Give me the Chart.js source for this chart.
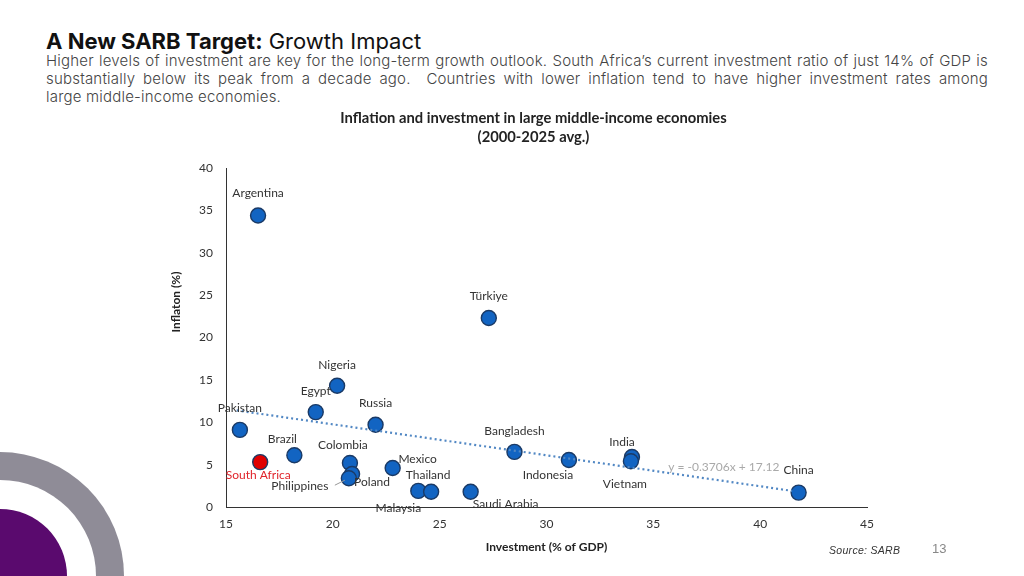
<!DOCTYPE html>
<html>
<head>
<meta charset="utf-8">
<script src="https://cdn.jsdelivr.net/npm/chart.js@4.4.1/dist/chart.umd.min.js"></script>
<style>
  body { margin: 0; width: 1024px; height: 576px; background: #fff; overflow: hidden; position: relative; font-family: Inter, "Noto Sans", sans-serif; }
  h1 { position: absolute; left: 46px; top: 28px; margin: 0; font-size: 22px; line-height: 26px; font-weight: 400; color: #111; white-space: nowrap; }
  h1 b { font-weight: 700; }
  .intro { position: absolute; left: 46px; top: 52px; width: 942px; font-size: 15px; line-height: 18px; font-weight: 300; color: #444; letter-spacing: 0.2px; }
  .intro span { display: block; white-space: nowrap; }
  .intro .j { text-align: justify; text-align-last: justify; white-space: normal; }
  #wrap { position: absolute; left: 150px; top: 100px; width: 740px; height: 460px; }
  .source { position: absolute; left: 829px; top: 544px; font: italic 10.5px "Liberation Sans", sans-serif; color: #333; letter-spacing: 0.3px; }
  .page { position: absolute; left: 932px; top: 541px; font: 13px "Liberation Sans", sans-serif; color: #888; }
  .ring { position: absolute; border-radius: 50%; }
</style>
</head>
<body>
<div class="ring" style="left:-124px; top:452px; width:248px; height:248px; background:#8f8c97;"></div>
<div class="ring" style="left:-96px; top:480px; width:192px; height:192px; background:#fff;"></div>
<div class="ring" style="left:-67px; top:509px; width:134px; height:134px; background:#5a0a6e;"></div>

<h1><b>A New SARB Target:</b> Growth Impact</h1>
<div class="intro">
  <span class="j">Higher levels of investment are key for the long-term growth outlook. South Africa’s current investment ratio of just 14% of GDP is</span>
  <span class="j">substantially below its peak from a decade ago.&nbsp; Countries with lower inflation tend to have higher investment rates among</span>
  <span>large middle-income economies.</span>
</div>

<div id="wrap"><canvas id="chart" width="740" height="460"></canvas></div>
<div class="source">Source: SARB</div>
<div class="page">13</div>

<script>
// countries and their 2000-2025 averages
const countries = ["Argentina", "Türkiye", "Nigeria", "Egypt", "Russia", "Pakistan", "Brazil",
  "South Africa", "Colombia", "Poland", "Philippines", "Mexico", "Malaysia", "Thailand",
  "Saudi Arabia", "Bangladesh", "Indonesia", "India", "Vietnam", "China"];
const investment = [16.5, 27.3, 20.2, 19.2, 22.0, 15.65, 18.2, 16.6, 20.8, 20.9, 20.75, 22.8,
  24.0, 24.6, 26.45, 28.5, 31.05, 34.0, 33.95, 41.8];
const inflation = [34.4, 22.3, 14.3, 11.2, 9.7, 9.1, 6.1, 5.3, 5.2, 3.9, 3.4, 4.6,
  1.9, 1.8, 1.8, 6.5, 5.55, 5.9, 5.4, 1.7];

// linear trend line ends
const trendX = [15.5, 41.5];
const trendY = [11.4, 1.9];
const trendText = "y = -0.3706x + 17.12";

const xTicks = [15, 20, 25, 30, 35, 40, 45];
const yTicks = [0, 5, 10, 15, 20, 25, 30, 35, 40];

// label placement, pixels from the marker
const labelOffsets = [[0, -22], [0, -22], [0, -21], [0, -21], [0, -22], [0, -22], [-12, -16],
  [-2, 13], [-7, -18], [20, 8], [-49, 8], [25, -9], [-20, 17], [-3, -17],
  [35, 12], [0, -21], [-21, 15], [-10, -15], [-6, 23], [0, -22]];
const trendLabelAt = [38.3, 4.7];

const highlight = "South Africa";

const annotations = {
  id: "annotations",
  afterDatasetsDraw(chart) {
    const ctx = chart.ctx;
    const { x, y } = chart.scales;
    ctx.save();
    ctx.textAlign = "center";
    ctx.textBaseline = "middle";

    // chart title
    ctx.fillStyle = "#222";
    ctx.font = "bold 14.75px Lato";
    ctx.fillText("Inflation and investment in large middle-income economies", 383.5, 18);
    ctx.fillText("(2000-2025 avg.)", 383.5, 37);

    // y axis title
    ctx.save();
    ctx.translate(26, 202);
    ctx.rotate(-Math.PI / 2);
    ctx.font = "bold 12px Lato";
    ctx.fillText("Inflaton (%)", 0, 0);
    ctx.restore();

    // trend equation
    ctx.font = "12px Lato";
    ctx.fillStyle = "#a9a9a9";
    ctx.fillText(trendText, x.getPixelForValue(trendLabelAt[0]), y.getPixelForValue(trendLabelAt[1]));

    // country labels
    const meta = chart.getDatasetMeta(1);
    meta.data.forEach((pt, i) => {
      const [dx, dy] = labelOffsets[i];
      ctx.fillStyle = countries[i] === highlight ? "#e0242b" : "#333";
      ctx.fillText(countries[i], pt.x + dx, pt.y + dy);
      if (countries[i] === "Philippines") {
        ctx.strokeStyle = "#999";
        ctx.lineWidth = 1;
        ctx.beginPath();
        ctx.moveTo(pt.x - 14, pt.y + 7);
        ctx.lineTo(pt.x - 4, pt.y + 2);
        ctx.stroke();
      }
    });
    ctx.restore();
  }
};

new Chart(document.getElementById("chart"), {
  type: "scatter",
  data: {
    datasets: [
      {
        type: "line",
        data: trendX.map((v, i) => ({ x: v, y: trendY[i] })),
        borderColor: "#5288c4",
        borderWidth: 2.2,
        borderDash: [2, 3],
        pointRadius: 0,
        fill: false
      },
      {
        data: investment.map((v, i) => ({ x: v, y: inflation[i] })),
        pointRadius: 7.5,
        pointBackgroundColor: countries.map(c => c === highlight ? "#e00000" : "#1264c2"),
        pointBorderColor: "#1a3a66",
        pointBorderWidth: 1.4
      }
    ]
  },
  options: {
    responsive: false,
    animation: false,
    layout: { padding: { top: 68, right: 23, left: 0, bottom: 0 } },
    plugins: { legend: { display: false }, tooltip: { enabled: false }, title: { display: false } },
    scales: {
      x: {
        type: "linear", min: 15, max: 45,
        afterBuildTicks: s => { s.ticks = xTicks.map(v => ({ value: v })); },
        afterFit: s => { s.height = 53; },
        ticks: { color: "#333", font: { family: "Lato", size: 12 }, padding: 10 },
        grid: { display: false, drawTicks: false },
        border: { color: "#333", width: 1 },
        title: { display: true, text: "Investment (% of GDP)", color: "#222",
          font: { family: "Lato", size: 12, weight: "bold" }, padding: { top: 0, bottom: 6 } }
      },
      y: {
        min: 0, max: 40,
        afterBuildTicks: s => { s.ticks = yTicks.map(v => ({ value: v })); },
        afterFit: s => { s.width = 76; },
        ticks: { color: "#333", font: { family: "Lato", size: 12 }, padding: 13 },
        grid: { display: false, drawTicks: false },
        border: { color: "#333", width: 1 }
      }
    }
  },
  plugins: [annotations]
});
</script>
</body>
</html>
